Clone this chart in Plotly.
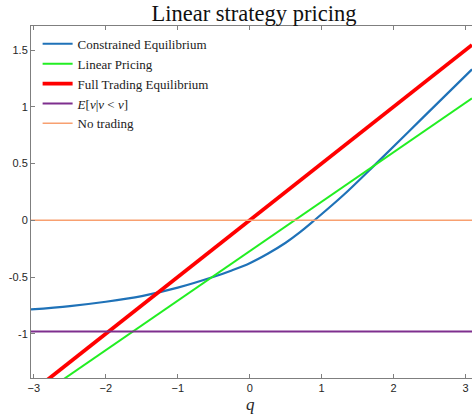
import plotly.graph_objects as go

# Data
q_line = [-3.04, 3.09]
full_trading = [-1.52, 1.545]          # slope 0.5 through origin
linear_pricing = [-1.598, 1.075]
cond_q = [-3.04, -2.5, -2.0, -1.5, -1.0, -0.5, -0.25, 0.0, 0.25, 0.5, 0.7, 0.9, 1.3, 1.74, 2.4, 3.09]
cond_y = [-0.786, -0.756, -0.718, -0.668, -0.594, -0.498, -0.442, -0.378, -0.295, -0.198, -0.105,
          0.0, 0.22, 0.488, 0.90, 1.33]
e_cond = [-0.98, -0.98]
no_trading = [0.0, 0.0]

names = ["Constrained Equilibrium", "Linear Pricing", "Full Trading Equilibrium",
         "<i>E</i>[<i>v</i>|<i>v</i> &lt; <i>ν</i>]", "No trading"]
colors = ["#1f72b8", "#22ee22", "#ff0000", "#7e2f8e", "#f8a070"]
widths = [2.2, 2.0, 3.8, 2.0, 1.5]

fig = go.Figure()
fig.add_trace(go.Scatter(x=cond_q, y=cond_y, mode="lines", name=names[0],
                         line=dict(color=colors[0], width=widths[0], shape="spline", smoothing=1.0)))
fig.add_trace(go.Scatter(x=q_line, y=linear_pricing, mode="lines", name=names[1],
                         line=dict(color=colors[1], width=widths[1])))
fig.add_trace(go.Scatter(x=q_line, y=full_trading, mode="lines", name=names[2],
                         line=dict(color=colors[2], width=widths[2])))
fig.add_trace(go.Scatter(x=q_line, y=e_cond, mode="lines", name=names[3],
                         line=dict(color=colors[3], width=widths[3])))
fig.add_trace(go.Scatter(x=q_line, y=no_trading, mode="lines", name=names[4],
                         line=dict(color=colors[4], width=widths[4])))

axis_common = dict(showgrid=False, zeroline=False, showline=True, linecolor="#7f7f7f",
                   linewidth=1, ticks="inside", ticklen=4, tickcolor="#7f7f7f",
                   automargin=False,
                   tickfont=dict(family="Liberation Sans, Arial", size=11, color="#262626"))

fig.update_layout(
    width=472, height=420,
    margin=dict(l=31, r=0, t=26, b=42),
    paper_bgcolor="white", plot_bgcolor="white",
    title=dict(text="Linear strategy pricing", x=0.538, xanchor="center", y=0.987, yanchor="top",
               font=dict(family="Liberation Serif, Times New Roman, serif", size=22.5, color="#111111")),
    xaxis=dict(range=[-3.04, 3.09], tickvals=[-3, -2, -1, 0, 1, 2, 3], mirror="ticks",
               **axis_common),
    yaxis=dict(range=[-1.39, 1.712], tickvals=[-1, -0.5, 0, 0.5, 1, 1.5],
               ticktext=["-1", "-0.5", "0", "0.5", "1", "1.5"], **axis_common),
    legend=dict(x=0.015, y=0.992, xanchor="left", yanchor="top", bgcolor="rgba(255,255,255,0)",
                font=dict(family="Liberation Serif, Times New Roman, serif", size=13, color="#222222"),
                tracegroupgap=0),
    showlegend=True,
    annotations=[dict(text="<i>q</i>", xref="paper", yref="paper", x=0.4966, y=-0.074,
                      xanchor="center", yanchor="middle", showarrow=False,
                      font=dict(family="Liberation Serif, serif", size=17, color="#262626"))],
)

fig.write_html("out.html", config={"displayModeBar": False},
               post_script="document.body.style.margin='0';document.body.style.padding='0';")
